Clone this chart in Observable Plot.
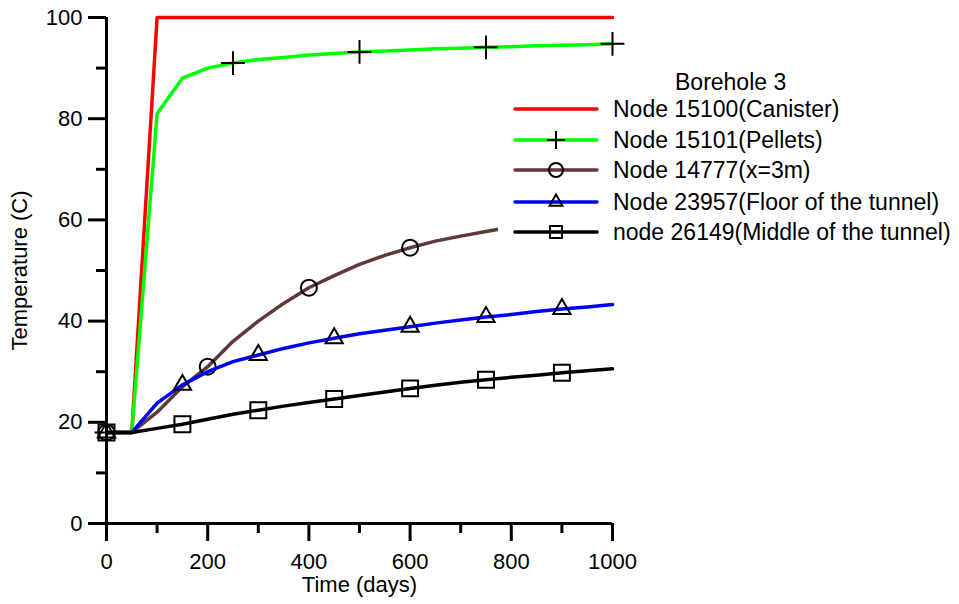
<!DOCTYPE html>
<html>
<head>
<meta charset="utf-8">
<script src="https://cdn.jsdelivr.net/npm/d3@7"></script>
<script src="https://cdn.jsdelivr.net/npm/@observablehq/plot@0.6"></script>
<style>
  html, body { margin: 0; padding: 0; background: white; }
  #wrap { position: relative; width: 959px; height: 604px; font-family: Arial, "Liberation Sans", sans-serif; }
  #legend { position: absolute; left: 498px; top: 68px; width: 461px; height: 178px; background: white; font-size: 23px; color: black; }
  #legend .title { position: absolute; left: 177px; top: 1px; }
  #legend .row { position: absolute; left: 7px; height: 30px; display: flex; align-items: center; }
  #legend .row span { margin-left: 8px; white-space: nowrap; }
</style>
</head>
<body>
<div id="wrap"><div id="legend"></div></div>
<script>
// ---- data ----
const times = [0, 50, 100, 150, 200, 250, 300, 350, 400, 450, 500, 550, 600, 650, 700, 750, 800, 850, 900, 950, 1000];
const canister = [18, 18, 100, 100, 100, 100, 100, 100, 100, 100, 100, 100, 100, 100, 100, 100, 100, 100, 100, 100, 100];
const pellets  = [18, 18, 81, 88, 90, 91, 91.7, 92.1, 92.6, 92.9, 93.2, 93.4, 93.6, 93.8, 93.9, 94.1, 94.2, 94.4, 94.5, 94.6, 94.8];
const x3m      = [18, 18, 22, 27, 31, 36, 40, 43.5, 46.6, 49, 51.2, 53, 54.5, 55.8, 56.8, 57.7, 58.6, 59.4, 60.1, 60.8, 61.4];
const floorT   = [18, 18, 23.8, 27.4, 30, 32, 33.3, 34.6, 35.7, 36.6, 37.5, 38.2, 38.9, 39.6, 40.2, 40.8, 41.3, 41.9, 42.4, 42.8, 43.3];
const middleT  = [18, 18, 18.8, 19.6, 20.6, 21.6, 22.4, 23.2, 23.9, 24.6, 25.3, 26, 26.7, 27.3, 27.9, 28.4, 28.9, 29.3, 29.8, 30.2, 30.6];

const pelletMarks = [0, 250, 500, 750, 1000];
const x3mMarks    = [0, 200, 400, 600, 800];
const floorMarks  = [0, 150, 300, 450, 600, 750, 900];
const middleMarks = [0, 150, 300, 450, 600, 750, 900];

const xMajor = [0, 200, 400, 600, 800, 1000];
const xMinor = [100, 300, 500, 700, 900];
const yMajor = [0, 20, 40, 60, 80, 100];
const yMinor = [10, 30, 50, 70, 90];

const legendTitle = "Borehole 3";
const seriesNames = ["Node 15100(Canister)", "Node 15101(Pellets)", "Node 14777(x=3m)", "Node 23957(Floor of the tunnel)", "node 26149(Middle of the tunnel)"];
const seriesColors = ["#ff0000", "#00ff00", "#603838", "#0000ff", "#000000"];
const seriesSymbols = [null, "plus", "circle", "triangle", "square"];
const seriesValues = [canister, pellets, x3m, floorT, middleT];
const seriesMarks = [null, pelletMarks, x3mMarks, floorMarks, middleMarks];
const symbolR = {plus: 7.7, circle: 8, triangle: 6.4, square: 9};

// ---- build ----
const rows = times.map((t, i) => ({t, i}));
const marks = [];
seriesValues.forEach((vals, s) => {
  marks.push(Plot.line(rows, {x: "t", y: d => vals[d.i], stroke: seriesColors[s], strokeWidth: 3.5, strokeLinejoin: "round"}));
  if (seriesMarks[s]) {
    const pts = rows.filter(d => seriesMarks[s].includes(d.t));
    marks.push(Plot.dot(pts, {x: "t", y: d => vals[d.i], symbol: seriesSymbols[s], r: symbolR[seriesSymbols[s]], stroke: "black", fill: "none", strokeWidth: 2}));
  }
});

const font = 'Arial, "Liberation Sans", sans-serif';
const chart = Plot.plot({
  width: 959,
  height: 604,
  marginLeft: 106,
  marginRight: 347,
  marginTop: 17,
  marginBottom: 81,
  x: {domain: [0, 1000]},
  y: {domain: [0, 100]},
  style: {fontFamily: font, fontSize: "22px", color: "black", background: "white", overflow: "visible"},
  marks: [
    ...marks,
    Plot.ruleY([0], {stroke: "black", strokeWidth: 3}),
    Plot.ruleX([0], {stroke: "black", strokeWidth: 3}),
    Plot.axisX(xMajor, {tickSize: 18, strokeWidth: 3, tickPadding: 12, fontSize: 22, label: "Time (days)", labelAnchor: "center", labelOffset: 68, labelArrow: "none", tickFormat: d => String(d)}),
    Plot.axisX(xMinor, {tickSize: 10, strokeWidth: 3, text: null, label: null}),
    Plot.axisY(yMajor, {tickSize: 18, strokeWidth: 3, tickPadding: 6, fontSize: 22, label: "Temperature (C)", labelAnchor: "center", labelOffset: 95, labelArrow: "none", tickFormat: d => String(d)}),
    Plot.axisY(yMinor, {tickSize: 10, strokeWidth: 3, text: null, label: null})
  ]
});
const wrap = document.getElementById("wrap");
wrap.insertBefore(chart, wrap.firstChild);

// ---- legend ----
const legend = document.getElementById("legend");
const title = document.createElement("div");
title.className = "title";
title.textContent = legendTitle;
legend.appendChild(title);
const rowTops = [26, 57, 87, 119, 149];
seriesNames.forEach((name, s) => {
  const row = document.createElement("div");
  row.className = "row";
  row.style.top = rowTops[s] + "px";
  const svg = d3.create("svg").attr("width", 100).attr("height", 30);
  svg.append("line").attr("x1", 10).attr("x2", 92).attr("y1", 15).attr("y2", 15)
    .attr("stroke", seriesColors[s]).attr("stroke-width", 3.5).attr("stroke-linecap", "round");
  if (seriesSymbols[s]) {
    const r = symbolR[seriesSymbols[s]];
    const typ = {plus: d3.symbolPlus, circle: d3.symbolCircle, triangle: d3.symbolTriangle, square: d3.symbolSquare}[seriesSymbols[s]];
    const sz = seriesSymbols[s] === "circle" ? 7 : r * 0.75;
    svg.append("path").attr("transform", "translate(51,15)")
      .attr("d", d3.symbol(typ, Math.PI * sz * sz)())
      .attr("fill", "none").attr("stroke", "black").attr("stroke-width", 2);
  }
  row.appendChild(svg.node());
  const span = document.createElement("span");
  span.textContent = name;
  row.appendChild(span);
  legend.appendChild(row);
});
</script>
</body>
</html>
